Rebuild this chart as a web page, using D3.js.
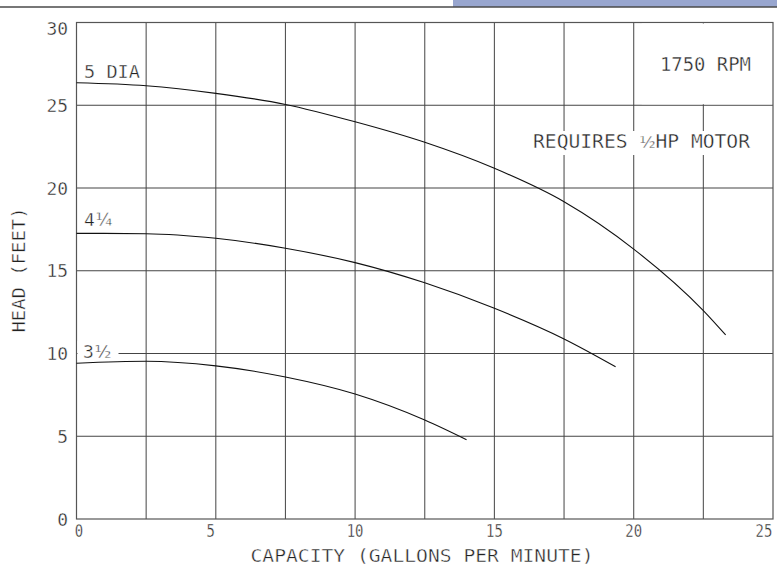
<!DOCTYPE html>
<html>
<head>
<meta charset="utf-8">
<script src="https://cdn.jsdelivr.net/npm/d3@7"></script>
<style>
  html, body { margin: 0; padding: 0; background: #fff; }
  svg { display: block; }
  text {
    font-family: "DejaVu Sans Mono", "Liberation Mono", monospace;
    fill: #222;
    stroke: #fff;
    stroke-width: 0.4px;
  }
  tspan.frac { font-family: "DejaVu Sans", sans-serif; }
</style>
</head>
<body>
<svg id="chart" width="777" height="580"></svg>
<script>
// Pump performance curves: head (feet) vs capacity (gallons per minute), 1750 RPM
const xTicks = [0, 5, 10, 15, 20, 25];
const yTicks = [0, 5, 10, 15, 20, 25, 30];
const xGrid = [2.5, 5, 7.5, 10, 12.5, 15, 17.5, 20, 22.5];
const yGrid = [5, 10, 15, 20, 25];

// Impeller 5" dia
const dia5Capacity = [0, 2.5, 5, 7.5, 10, 12.5, 15, 17.5, 20, 22.5, 23.3];
const dia5Head     = [26.36, 26.18, 25.72, 25.05, 24.0, 22.76, 21.19, 19.17, 16.31, 12.59, 11.12];
// Impeller 4 1/4" dia
const dia425Capacity = [0, 2.5, 5, 7.5, 10, 12.5, 15, 17.5, 19.35];
const dia425Head     = [17.26, 17.24, 16.96, 16.36, 15.49, 14.27, 12.73, 10.88, 9.2];
// Impeller 3 1/2" dia
const dia35Capacity = [0, 2.5, 5, 7.5, 10, 12.5, 14.0];
const dia35Head     = [9.41, 9.53, 9.25, 8.58, 7.55, 5.98, 4.79];

const curveNames = [["5 DIA", ""], ["4", "¼"], ["3", "½"]];

const svg = d3.select("#chart");
const W = 777;

const x = d3.scaleLinear().domain([0, 25]).range([76.5, 773]);
const y = d3.scaleLinear().domain([0, 30]).range([519, 22.5]);

// page header rule and tab
svg.append("rect").attr("x", 453).attr("y", 0).attr("width", W - 453).attr("height", 7)
  .attr("fill", "#98a6cf");
svg.append("line").attr("x1", 0).attr("x2", W).attr("y1", 7).attr("y2", 7)
  .attr("stroke", "#4a4a4a").attr("stroke-width", 1.6);

// grid
const grid = svg.append("g");
grid.selectAll("line.v").data(xGrid).join("line").attr("class", "v")
  .attr("x1", d => x(d)).attr("x2", d => x(d))
  .attr("y1", y(30)).attr("y2", y(0))
  .attr("stroke", "#555").attr("stroke-width", 1.1);
grid.selectAll("line.h").data(yGrid).join("line").attr("class", "h")
  .attr("x1", x(0)).attr("x2", x(25))
  .attr("y1", d => y(d)).attr("y2", d => y(d))
  .attr("stroke", "#444").attr("stroke-width", 1.1);

// plot frame
svg.append("rect")
  .attr("x", x(0)).attr("y", y(30))
  .attr("width", x(25) - x(0)).attr("height", y(0) - y(30))
  .attr("fill", "none").attr("stroke", "#555").attr("stroke-width", 1.2);

// label backgrounds that break the grid
const masks = svg.append("g").attr("fill", "#fff");
masks.append("rect").attr("x", x(20) + 8).attr("y", y(30) + 1).attr("width", x(25) - x(20) - 9).attr("height", y(25) - y(30) - 2);
masks.append("rect").attr("x", 528).attr("y", 131).attr("width", 230).attr("height", 24);
masks.append("rect").attr("x", x(0) + 1).attr("y", 341).attr("width", 41).attr("height", 19);

// curves
const line = d3.line().x(d => x(d[0])).y(d => y(d[1])).curve(d3.curveMonotoneX);
const series = [
  d3.zip(dia5Capacity, dia5Head),
  d3.zip(dia425Capacity, dia425Head),
  d3.zip(dia35Capacity, dia35Head)
];
svg.append("g").selectAll("path").data(series).join("path")
  .attr("d", line)
  .attr("fill", "none").attr("stroke", "#111").attr("stroke-width", 1.1);

// text helper
function label(str, px, py, size, len, anchor, rotate) {
  const t = svg.append("text")
    .attr("x", px).attr("y", py)
    .attr("font-size", size)
    .attr("text-anchor", anchor || "start")
    .text(str);
  if (len) t.attr("textLength", len).attr("lengthAdjust", "spacingAndGlyphs");
  if (rotate) t.attr("transform", `rotate(${rotate},${px},${py})`);
  return t;
}

// y tick labels
yTicks.forEach(v => {
  const s = String(v);
  const base = v === 30 ? y(v) + 12.5 : y(v) + 6.5;
  label(s, 68, base, 18, s.length * 10.8, "end");
});

// x tick labels
const xShift = { 0: 2.5, 5: -5, 25: -9 };
xTicks.forEach(v => {
  const s = String(v);
  label(s, x(v) + (xShift[v] || 0), 537, 17, s.length * 8.4, "middle");
});

// axis titles
label("CAPACITY (GALLONS PER MINUTE)", 422, 561.5, 17, 343, "middle");
label("HEAD (FEET)", 25, 270, 17, 125, "middle", -90);

// curve labels: whole part in the drawing font, fraction in a sans face
function curveLabel(parts, px, py, len) {
  const t = svg.append("text").attr("x", px).attr("y", py).attr("font-size", 18);
  t.append("tspan").text(parts[0]);
  if (parts[1]) t.append("tspan").attr("class", "frac").attr("font-size", 17).attr("dx", 1).text(parts[1]);
  if (len) t.attr("textLength", len).attr("lengthAdjust", "spacingAndGlyphs");
  return t;
}
curveLabel(curveNames[0], 84, 78, 56);
curveLabel(curveNames[1], 84, 226);
curveLabel(curveNames[2], 83, 358);

// notes
label("1750 RPM", 751, 71, 19, 91, "end");
const req = svg.append("text").attr("x", 533).attr("y", 148).attr("font-size", 19)
  .attr("textLength", 217).attr("lengthAdjust", "spacingAndGlyphs");
req.append("tspan").text("REQUIRES ");
req.append("tspan").attr("class", "frac").attr("font-size", 16).text("½");
req.append("tspan").text("HP MOTOR");
</script>
</body>
</html>
